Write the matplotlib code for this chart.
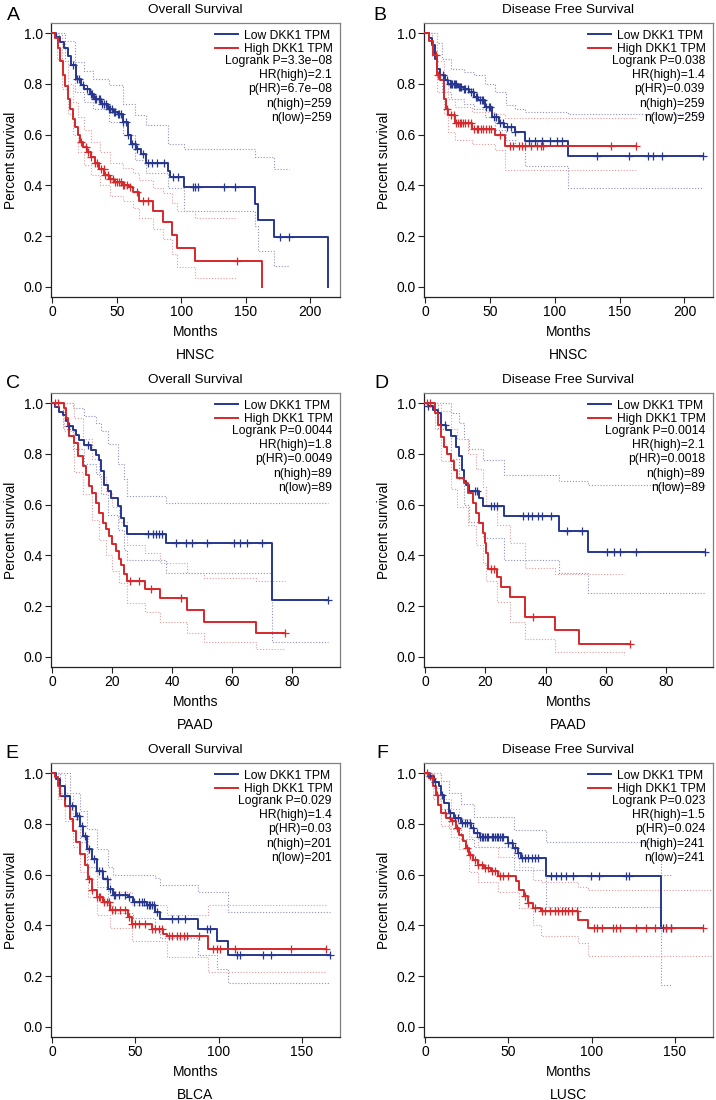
import numpy as np
import matplotlib
matplotlib.use("Agg")
import matplotlib.pyplot as plt

plt.rcParams['font.family'] = ['Liberation Sans', 'DejaVu Sans']

# ---------------- data ----------------
# A: HNSC overall survival
A_low_t = [0, 3, 6, 9.5, 12, 14.7, 18.5, 22, 25, 29, 32.7, 38, 43, 47, 50.7, 54.6, 58.4, 61, 65, 68.7, 72.6, 90, 91.5, 102, 156.8, 159.3, 172, 214, 214]
A_low_s = [1.0, 0.985, 0.965, 0.94, 0.91, 0.873, 0.82, 0.795, 0.78, 0.76, 0.742, 0.72, 0.70, 0.69, 0.683, 0.65, 0.597, 0.564, 0.544, 0.524, 0.49, 0.458, 0.432, 0.392, 0.327, 0.265, 0.198, 0.198, 0.0]
A_low_cens = [16, 19, 21, 24, 27, 30, 31, 33, 34, 36, 37, 39, 40, 42, 44, 45, 46, 48, 49, 51, 52, 53, 55, 57, 59, 62, 64, 66, 70, 74.6, 77, 81, 87, 93.8, 97.6, 109, 111, 113, 133, 142, 176.6, 183.5]
A_high_t = [0, 2, 4.4, 6, 8.2, 10, 12, 14, 16, 18, 19.8, 21.5, 23.7, 27, 30, 33, 36.5, 40.4, 44, 48, 55, 59.7, 62.8, 67.5, 78, 86, 92.5, 97, 110.6, 162.7, 162.7]
A_high_s = [1.0, 0.98, 0.94, 0.89, 0.834, 0.79, 0.742, 0.70, 0.663, 0.63, 0.597, 0.57, 0.55, 0.53, 0.51, 0.49, 0.465, 0.44, 0.425, 0.412, 0.40, 0.393, 0.372, 0.34, 0.30, 0.257, 0.205, 0.155, 0.103, 0.103, 0.0]
A_high_cens = [22, 26, 28, 30, 33, 35, 38, 40, 41, 43, 45, 47, 49, 50, 52, 53, 55, 56, 58, 60, 66, 70, 74, 143]
A_low_ci_t = [0, 5, 10, 18, 25, 32, 44, 55, 64, 73, 90, 102, 157, 159.3, 172, 183.5]
A_low_ci_up = [1.0, 1.0, 0.97, 0.887, 0.85, 0.82, 0.794, 0.722, 0.676, 0.636, 0.565, 0.545, 0.51, 0.51, 0.465, 0.465]
A_low_ci_lo = [1.0, 0.97, 0.89, 0.77, 0.728, 0.70, 0.65, 0.60, 0.50, 0.45, 0.39, 0.30, 0.24, 0.14, 0.083, 0.083]
A_high_ci_t = [0, 4, 8, 12, 16, 20, 25, 30, 37, 45, 55, 62.8, 67.5, 78, 86, 92.5, 97, 110.6, 143]
A_high_ci_up = [1.0, 1.0, 0.89, 0.80, 0.73, 0.67, 0.62, 0.57, 0.53, 0.49, 0.47, 0.45, 0.42, 0.39, 0.37, 0.33, 0.30, 0.27, 0.27]
A_high_ci_lo = [1.0, 0.90, 0.78, 0.68, 0.60, 0.53, 0.48, 0.44, 0.40, 0.36, 0.34, 0.31, 0.27, 0.23, 0.19, 0.13, 0.08, 0.033, 0.033]

# B: HNSC disease free survival
B_low_t = [0, 3, 5.1, 7.7, 9, 11.6, 15, 18, 25.7, 30, 33.5, 38, 41, 46.3, 51.5, 56.6, 60.5, 69, 77.2, 110.2, 214]
B_low_s = [1.0, 0.98, 0.953, 0.90, 0.86, 0.834, 0.815, 0.80, 0.788, 0.778, 0.768, 0.75, 0.736, 0.709, 0.67, 0.644, 0.63, 0.61, 0.574, 0.516, 0.516]
B_low_cens = [14, 17, 19, 20, 21, 22, 23, 24, 26, 27, 28, 30, 31, 33, 35, 37, 39, 40, 42, 44, 45, 47, 49, 50, 53, 55, 58, 60, 63, 66, 69, 80, 85, 90, 96, 102, 105.5, 132.6, 157, 172, 176, 183, 214]
B_high_t = [0, 3, 6.4, 9, 11.6, 14.2, 16, 18, 23.2, 36, 54, 61.8, 162.7]
B_high_s = [1.0, 0.97, 0.913, 0.834, 0.815, 0.742, 0.70, 0.676, 0.644, 0.624, 0.598, 0.555, 0.555]
B_high_cens = [8, 10, 17, 20, 22, 24, 25, 27, 28, 29, 31, 33, 35, 38, 40, 41, 43, 45, 47, 49, 51, 58, 65.6, 68, 72, 74.6, 77, 82, 86, 89, 91, 143, 162.7]
B_low_ci_t = [0, 5, 9, 13, 20, 30, 38, 46, 54, 62, 69, 77.2, 110.2, 214]
B_low_ci_up = [1.0, 1.0, 0.96, 0.90, 0.86, 0.845, 0.834, 0.80, 0.768, 0.716, 0.70, 0.69, 0.683, 0.683]
B_low_ci_lo = [1.0, 0.91, 0.82, 0.77, 0.74, 0.72, 0.70, 0.67, 0.62, 0.58, 0.55, 0.475, 0.39, 0.39]
B_high_ci_t = [0, 5, 9, 14.2, 18, 23.2, 36, 54, 61.8, 162.7]
B_high_ci_up = [1.0, 1.0, 0.89, 0.80, 0.74, 0.71, 0.69, 0.68, 0.665, 0.665]
B_high_ci_lo = [1.0, 0.93, 0.77, 0.68, 0.61, 0.58, 0.565, 0.538, 0.46, 0.46]

# C: PAAD overall survival
C_low_t = [0, 1.1, 2.2, 3.5, 4.6, 5.2, 6.8, 7.9, 9, 10.7, 12.9, 14.6, 15.7, 16.2, 17.4, 18.5, 19.6, 21.8, 22.9, 24, 24.9, 37.9, 73.3, 92]
C_low_s = [1.0, 0.983, 0.967, 0.954, 0.928, 0.908, 0.895, 0.875, 0.856, 0.836, 0.817, 0.797, 0.777, 0.731, 0.679, 0.653, 0.627, 0.594, 0.548, 0.515, 0.486, 0.447, 0.224, 0.224]
C_low_cens = [5.5, 11.9, 31.8, 33.5, 34.6, 35.7, 36.8, 41.2, 44.5, 46.7, 51.7, 60.6, 62.8, 65, 70, 92]
C_high_t = [0, 4.1, 4.65, 5.2, 5.75, 7.4, 8.5, 10.2, 11.3, 12.4, 13.2, 14.6, 15.7, 16.8, 17.9, 19.0, 20.1, 21.3, 22.3, 22.9, 23.8, 24.9, 30.9, 36, 44.9, 50.8, 68, 77.7]
C_high_s = [1.0, 0.98, 0.941, 0.908, 0.869, 0.843, 0.791, 0.751, 0.718, 0.672, 0.646, 0.607, 0.568, 0.528, 0.502, 0.476, 0.443, 0.417, 0.384, 0.364, 0.325, 0.299, 0.269, 0.23, 0.184, 0.138, 0.093, 0.093]
C_high_cens = [0.8, 1.9, 25.9, 29, 33, 43, 77.7]
C_low_ci_t = [0, 3.5, 6.8, 10.7, 14.6, 16.2, 18.5, 21.8, 24, 24.9, 37.9, 73.3, 92]
C_low_ci_up = [1.0, 1.0, 0.98, 0.95, 0.92, 0.89, 0.84, 0.76, 0.70, 0.633, 0.607, 0.607, 0.607]
C_low_ci_lo = [1.0, 0.90, 0.82, 0.76, 0.72, 0.64, 0.56, 0.50, 0.42, 0.38, 0.33, 0.057, 0.057]
C_high_ci_t = [0, 4.1, 7.4, 10.2, 13.2, 15.7, 17.9, 20.1, 22.3, 24.9, 30.9, 36, 44.9, 50.8, 68, 77.7]
C_high_ci_up = [1.0, 1.0, 0.94, 0.86, 0.78, 0.71, 0.65, 0.59, 0.53, 0.44, 0.41, 0.37, 0.33, 0.31, 0.30, 0.30]
C_high_ci_lo = [1.0, 0.89, 0.73, 0.64, 0.54, 0.46, 0.40, 0.34, 0.29, 0.213, 0.177, 0.138, 0.093, 0.057, 0.03, 0.03]

# D: PAAD disease free survival
D_low_t = [0, 0.9, 2.5, 4.2, 5.3, 6.9, 8.6, 10.3, 11.1, 12.1, 13, 13.5, 14.7, 18, 19.1, 26.2, 44.4, 54.1, 92.9]
D_low_s = [1.0, 0.99, 0.974, 0.961, 0.915, 0.895, 0.869, 0.827, 0.791, 0.738, 0.692, 0.679, 0.653, 0.627, 0.594, 0.557, 0.496, 0.413, 0.413]
D_low_cens = [0.9, 6.5, 16.5, 17.3, 21.8, 22.9, 24, 32.3, 34, 35.6, 37.3, 38.9, 41.7, 47.2, 52.1, 60.4, 62.6, 64.8, 70.1, 92.9]
D_high_t = [0, 3.3, 4.4, 5.3, 6.2, 7.3, 8.6, 9.5, 10.6, 13, 14.3, 15.8, 16.9, 18, 19.1, 19.8, 20.3, 21, 24, 25.1, 28.1, 33.1, 43.1, 51.1, 68.1]
D_high_s = [1.0, 0.961, 0.915, 0.866, 0.827, 0.801, 0.771, 0.738, 0.705, 0.685, 0.646, 0.607, 0.568, 0.528, 0.489, 0.450, 0.410, 0.345, 0.316, 0.275, 0.236, 0.157, 0.105, 0.05, 0.05]
D_high_cens = [0.5, 1.7, 22, 22.9, 35.9, 68.1]
D_low_ci_t = [0, 4.2, 8.6, 11.1, 13, 14.7, 19.1, 26.2, 44.4, 54.1, 92.9]
D_low_ci_up = [1.0, 1.0, 0.96, 0.92, 0.86, 0.82, 0.777, 0.718, 0.692, 0.679, 0.679]
D_low_ci_lo = [1.0, 0.90, 0.78, 0.70, 0.60, 0.53, 0.47, 0.38, 0.332, 0.253, 0.253]
D_high_ci_t = [0, 3.3, 5.3, 8.6, 10.6, 14.3, 16.9, 19.1, 20.3, 24, 28.1, 33.1, 43.1, 66]
D_high_ci_up = [1.0, 1.0, 0.97, 0.90, 0.86, 0.80, 0.74, 0.67, 0.60, 0.52, 0.45, 0.35, 0.325, 0.325]
D_high_ci_lo = [1.0, 0.90, 0.77, 0.66, 0.59, 0.52, 0.44, 0.37, 0.30, 0.215, 0.136, 0.07, 0.02, 0.007]

# E: BLCA overall survival
E_low_t = [0, 2.6, 4.6, 7.6, 10.6, 14.6, 16.6, 18.7, 20.7, 23.7, 26.7, 30.7, 33.7, 36.8, 45.8, 48.8, 56.8, 61.8, 64.8, 87.8, 98.9, 105.9, 167]
E_low_s = [1.0, 0.976, 0.95, 0.911, 0.871, 0.832, 0.793, 0.753, 0.701, 0.662, 0.616, 0.583, 0.544, 0.518, 0.511, 0.492, 0.479, 0.452, 0.424, 0.384, 0.337, 0.284, 0.284]
E_low_cens = [8, 12, 15, 16, 18, 20, 22, 25, 28, 30, 33, 35, 37, 38, 40, 44, 46, 49, 52, 54, 55, 57, 58, 59, 60, 61, 63, 71.8, 75.8, 79.8, 92.8, 94.8, 111, 113, 126.5, 131.4, 167]
E_high_t = [0, 1.6, 3.6, 5, 7.6, 10.6, 12.6, 14.6, 16.6, 19.6, 21.7, 23.7, 26.7, 30.7, 34.8, 45.8, 47.8, 59.8, 66.8, 68.8, 93.8, 164.5]
E_high_s = [1.0, 0.983, 0.95, 0.911, 0.871, 0.819, 0.773, 0.727, 0.682, 0.636, 0.583, 0.538, 0.511, 0.492, 0.459, 0.433, 0.407, 0.387, 0.367, 0.357, 0.308, 0.308]
E_high_cens = [22, 24, 27, 28, 29, 31, 33, 34, 36, 38, 41, 44, 46, 48, 50, 52, 56, 60, 62, 64, 66, 70, 72, 75, 77, 79, 81, 88, 96.8, 98.9, 101, 110, 143.5, 164.5]
E_low_ci_t = [0, 4.6, 10.6, 16.6, 20.7, 26.7, 33.7, 36.8, 48.8, 61.8, 64.8, 87.8, 98.9, 105.9, 167]
E_low_ci_up = [1.0, 1.0, 0.92, 0.85, 0.78, 0.70, 0.63, 0.60, 0.60, 0.585, 0.56, 0.53, 0.53, 0.452, 0.452]
E_low_ci_lo = [1.0, 0.92, 0.82, 0.73, 0.63, 0.55, 0.48, 0.45, 0.43, 0.38, 0.35, 0.282, 0.23, 0.171, 0.171]
E_high_ci_t = [0, 3.6, 7.6, 12.6, 16.6, 21.7, 26.7, 34.8, 47.8, 68.8, 93.8, 164.5]
E_high_ci_up = [1.0, 1.0, 0.92, 0.83, 0.75, 0.66, 0.59, 0.53, 0.48, 0.44, 0.479, 0.479]
E_high_ci_lo = [1.0, 0.90, 0.81, 0.71, 0.61, 0.51, 0.44, 0.39, 0.34, 0.276, 0.215, 0.215]

# F: LUSC disease free survival
F_low_t = [0, 2.6, 5.6, 8.6, 9.6, 11.6, 14.6, 17.6, 21.6, 27.6, 29.6, 33, 49.6, 52.6, 55.6, 57.6, 72.6, 141.6, 147.6]
F_low_s = [1.0, 0.987, 0.967, 0.948, 0.915, 0.882, 0.843, 0.823, 0.803, 0.784, 0.764, 0.75, 0.724, 0.705, 0.685, 0.665, 0.593, 0.389, 0.389]
F_low_cens = [3, 6, 10, 15, 18, 20, 22, 24, 25, 27, 29, 31, 33, 34, 35, 36, 37, 38, 40, 41, 42, 43, 44, 45, 46, 47, 50, 52, 54, 56, 58, 60, 62, 64, 66, 68, 75.6, 78.6, 81.6, 84.6, 88.6, 99.6, 104.6, 120.6, 122.6, 143, 145, 147.6]
F_high_t = [0, 2.6, 4.6, 6.6, 8, 9.6, 12.6, 15.6, 18.6, 20.6, 22.6, 24.6, 26.6, 28.6, 31.6, 35.6, 39.6, 43.6, 54.6, 56.6, 59.6, 61.6, 64.6, 69.6, 92, 97.6, 166.8]
F_high_s = [1.0, 0.98, 0.948, 0.915, 0.875, 0.843, 0.823, 0.81, 0.784, 0.757, 0.731, 0.705, 0.679, 0.659, 0.639, 0.626, 0.613, 0.593, 0.573, 0.541, 0.515, 0.489, 0.469, 0.456, 0.423, 0.388, 0.388]
F_high_cens = [1, 4, 7, 12, 16, 19, 25, 27, 30, 32, 34, 36, 38, 40, 42, 45, 47, 50, 60, 62, 66, 70, 72, 75, 78, 80, 82, 84, 86, 88, 91, 101.6, 103, 106, 113, 115, 117, 127, 133, 138, 145, 148, 166.8]
F_low_ci_t = [0, 5.6, 9.6, 14.6, 21.6, 29.6, 53.6, 72.6, 141.6, 147.6]
F_low_ci_up = [1.0, 1.0, 0.97, 0.92, 0.88, 0.826, 0.776, 0.73, 0.60, 0.60]
F_low_ci_lo = [1.0, 0.94, 0.86, 0.78, 0.74, 0.71, 0.62, 0.472, 0.166, 0.166]
F_high_ci_t = [0, 4.6, 9.6, 15.6, 20.6, 26.6, 31.6, 43.6, 56.6, 64.6, 69.6, 92, 97.6, 176]
F_high_ci_up = [1.0, 1.0, 0.90, 0.86, 0.82, 0.75, 0.71, 0.67, 0.63, 0.58, 0.57, 0.55, 0.541, 0.541]
F_high_ci_lo = [1.0, 0.90, 0.79, 0.75, 0.70, 0.61, 0.57, 0.53, 0.47, 0.40, 0.36, 0.33, 0.28, 0.28]

panel_letters = ["A", "B", "C", "D", "E", "F"]
panel_titles = ["Overall Survival", "Disease Free Survival"] * 3
cancers = ["HNSC", "HNSC", "PAAD", "PAAD", "BLCA", "LUSC"]
logrank_p = ["3.3e\u221208", "0.038", "0.0044", "0.0014", "0.029", "0.023"]
hr_high = ["2.1", "1.4", "1.8", "2.1", "1.4", "1.5"]
p_hr = ["6.7e\u221208", "0.039", "0.0049", "0.0018", "0.03", "0.024"]
n_group = [259, 259, 89, 89, 201, 241]
x_ticks = [[0, 50, 100, 150, 200]] * 2 + [[0, 20, 40, 60, 80]] * 2 + [[0, 50, 100, 150]] * 2
x_max = [223, 222, 96, 95.5, 173, 173]

BLUE = "#27378f"
RED = "#d7282b"
BLUE_CI = "#8d91bd"
RED_CI = "#e39b9b"

panels = [
    (A_low_t, A_low_s, A_low_cens, A_high_t, A_high_s, A_high_cens,
     A_low_ci_t, A_low_ci_up, A_low_ci_lo, A_high_ci_t, A_high_ci_up, A_high_ci_lo),
    (B_low_t, B_low_s, B_low_cens, B_high_t, B_high_s, B_high_cens,
     B_low_ci_t, B_low_ci_up, B_low_ci_lo, B_high_ci_t, B_high_ci_up, B_high_ci_lo),
    (C_low_t, C_low_s, C_low_cens, C_high_t, C_high_s, C_high_cens,
     C_low_ci_t, C_low_ci_up, C_low_ci_lo, C_high_ci_t, C_high_ci_up, C_high_ci_lo),
    (D_low_t, D_low_s, D_low_cens, D_high_t, D_high_s, D_high_cens,
     D_low_ci_t, D_low_ci_up, D_low_ci_lo, D_high_ci_t, D_high_ci_up, D_high_ci_lo),
    (E_low_t, E_low_s, E_low_cens, E_high_t, E_high_s, E_high_cens,
     E_low_ci_t, E_low_ci_up, E_low_ci_lo, E_high_ci_t, E_high_ci_up, E_high_ci_lo),
    (F_low_t, F_low_s, F_low_cens, F_high_t, F_high_s, F_high_cens,
     F_low_ci_t, F_low_ci_up, F_low_ci_lo, F_high_ci_t, F_high_ci_up, F_high_ci_lo),
]


def step_value(t, s, x):
    # value of the KM step function at time x
    idx = np.searchsorted(np.asarray(t), x, side="right") - 1
    idx = np.clip(idx, 0, len(s) - 1)
    return np.asarray(s)[idx]


def draw_curve(ax, t, s, cens, ci_t, ci_up, ci_lo, color, ci_color, label):
    ax.step(ci_t, ci_up, where="post", color=ci_color, lw=0.8, ls=(0, (1, 1.6)), zorder=2)
    ax.step(ci_t, ci_lo, where="post", color=ci_color, lw=0.8, ls=(0, (1, 1.6)), zorder=2)
    ax.step(t, s, where="post", color=color, lw=1.4, zorder=3, label=label)
    ax.plot(cens, step_value(t, s, cens), ls="none", marker="+", ms=6, mew=0.9,
            color=color, zorder=4)


W, H = 716, 1100
fig = plt.figure(figsize=(W / 100, H / 100), dpi=100)

col_left = [51, 424]
row_top = [23, 393, 763]
ax_w, ax_h = 289, 274
letter_pos = [(13, 15), (380, 15), (13, 384), (381, 384), (12, 754), (382, 754)]

for i, d in enumerate(panels):
    r, c = divmod(i, 2)
    left = col_left[c]
    top = row_top[r]
    ax = fig.add_axes([left / W, 1 - (top + ax_h) / H, ax_w / W, ax_h / H])

    (lt, ls_, lc, ht, hs, hc, lci_t, lci_u, lci_l, hci_t, hci_u, hci_l) = d
    draw_curve(ax, lt, ls_, lc, lci_t, lci_u, lci_l, BLUE, BLUE_CI, "Low DKK1 TPM")
    draw_curve(ax, ht, hs, hc, hci_t, hci_u, hci_l, RED, RED_CI, "High DKK1 TPM")

    ax.set_xlim(-x_max[i] * 0.004, x_max[i])
    ax.set_ylim(-0.04, 1.04)
    ax.set_xticks(x_ticks[i])
    ax.set_yticks([0.0, 0.2, 0.4, 0.6, 0.8, 1.0])
    ax.set_yticklabels(["0.0", "0.2", "0.4", "0.6", "0.8", "1.0"])
    ax.tick_params(direction="out", length=4, width=0.8, labelsize=10, pad=2, color="#222222")
    for sp in ["top", "right"]:
        ax.spines[sp].set_color("#808080")
        ax.spines[sp].set_linewidth(0.9)
    for sp in ["left", "bottom"]:
        ax.spines[sp].set_color("#222222")
        ax.spines[sp].set_linewidth(0.9)

    ax.set_title(panel_titles[i], fontsize=9.7, pad=7)
    ax.set_xlabel("Months", fontsize=10, labelpad=4)
    ax.set_ylabel("Percent survival", fontsize=9.8, labelpad=4)
    ax.text(0.5, -58 / ax_h, cancers[i], transform=ax.transAxes, ha="center",
            va="center", fontsize=10)

    leg = ax.legend(loc="upper right", frameon=False, fontsize=8.7, handlelength=1.9,
                    handletextpad=0.55, labelspacing=0.15, borderaxespad=0.2,
                    borderpad=0.35)
    stats = ["Logrank P=" + logrank_p[i], "HR(high)=" + hr_high[i],
             "p(HR)=" + p_hr[i], "n(high)=%d" % n_group[i], "n(low)=%d" % n_group[i]]
    for k, txt in enumerate(stats):
        ax.text(0.972, 1 - (38 + 14.2 * k) / ax_h, txt, transform=ax.transAxes,
                ha="right", va="center", fontsize=8.7)

    fig.text(letter_pos[i][0] / W, 1 - letter_pos[i][1] / H, panel_letters[i],
             ha="center", va="center", fontsize=14)

fig.savefig("out.png", dpi=100)
